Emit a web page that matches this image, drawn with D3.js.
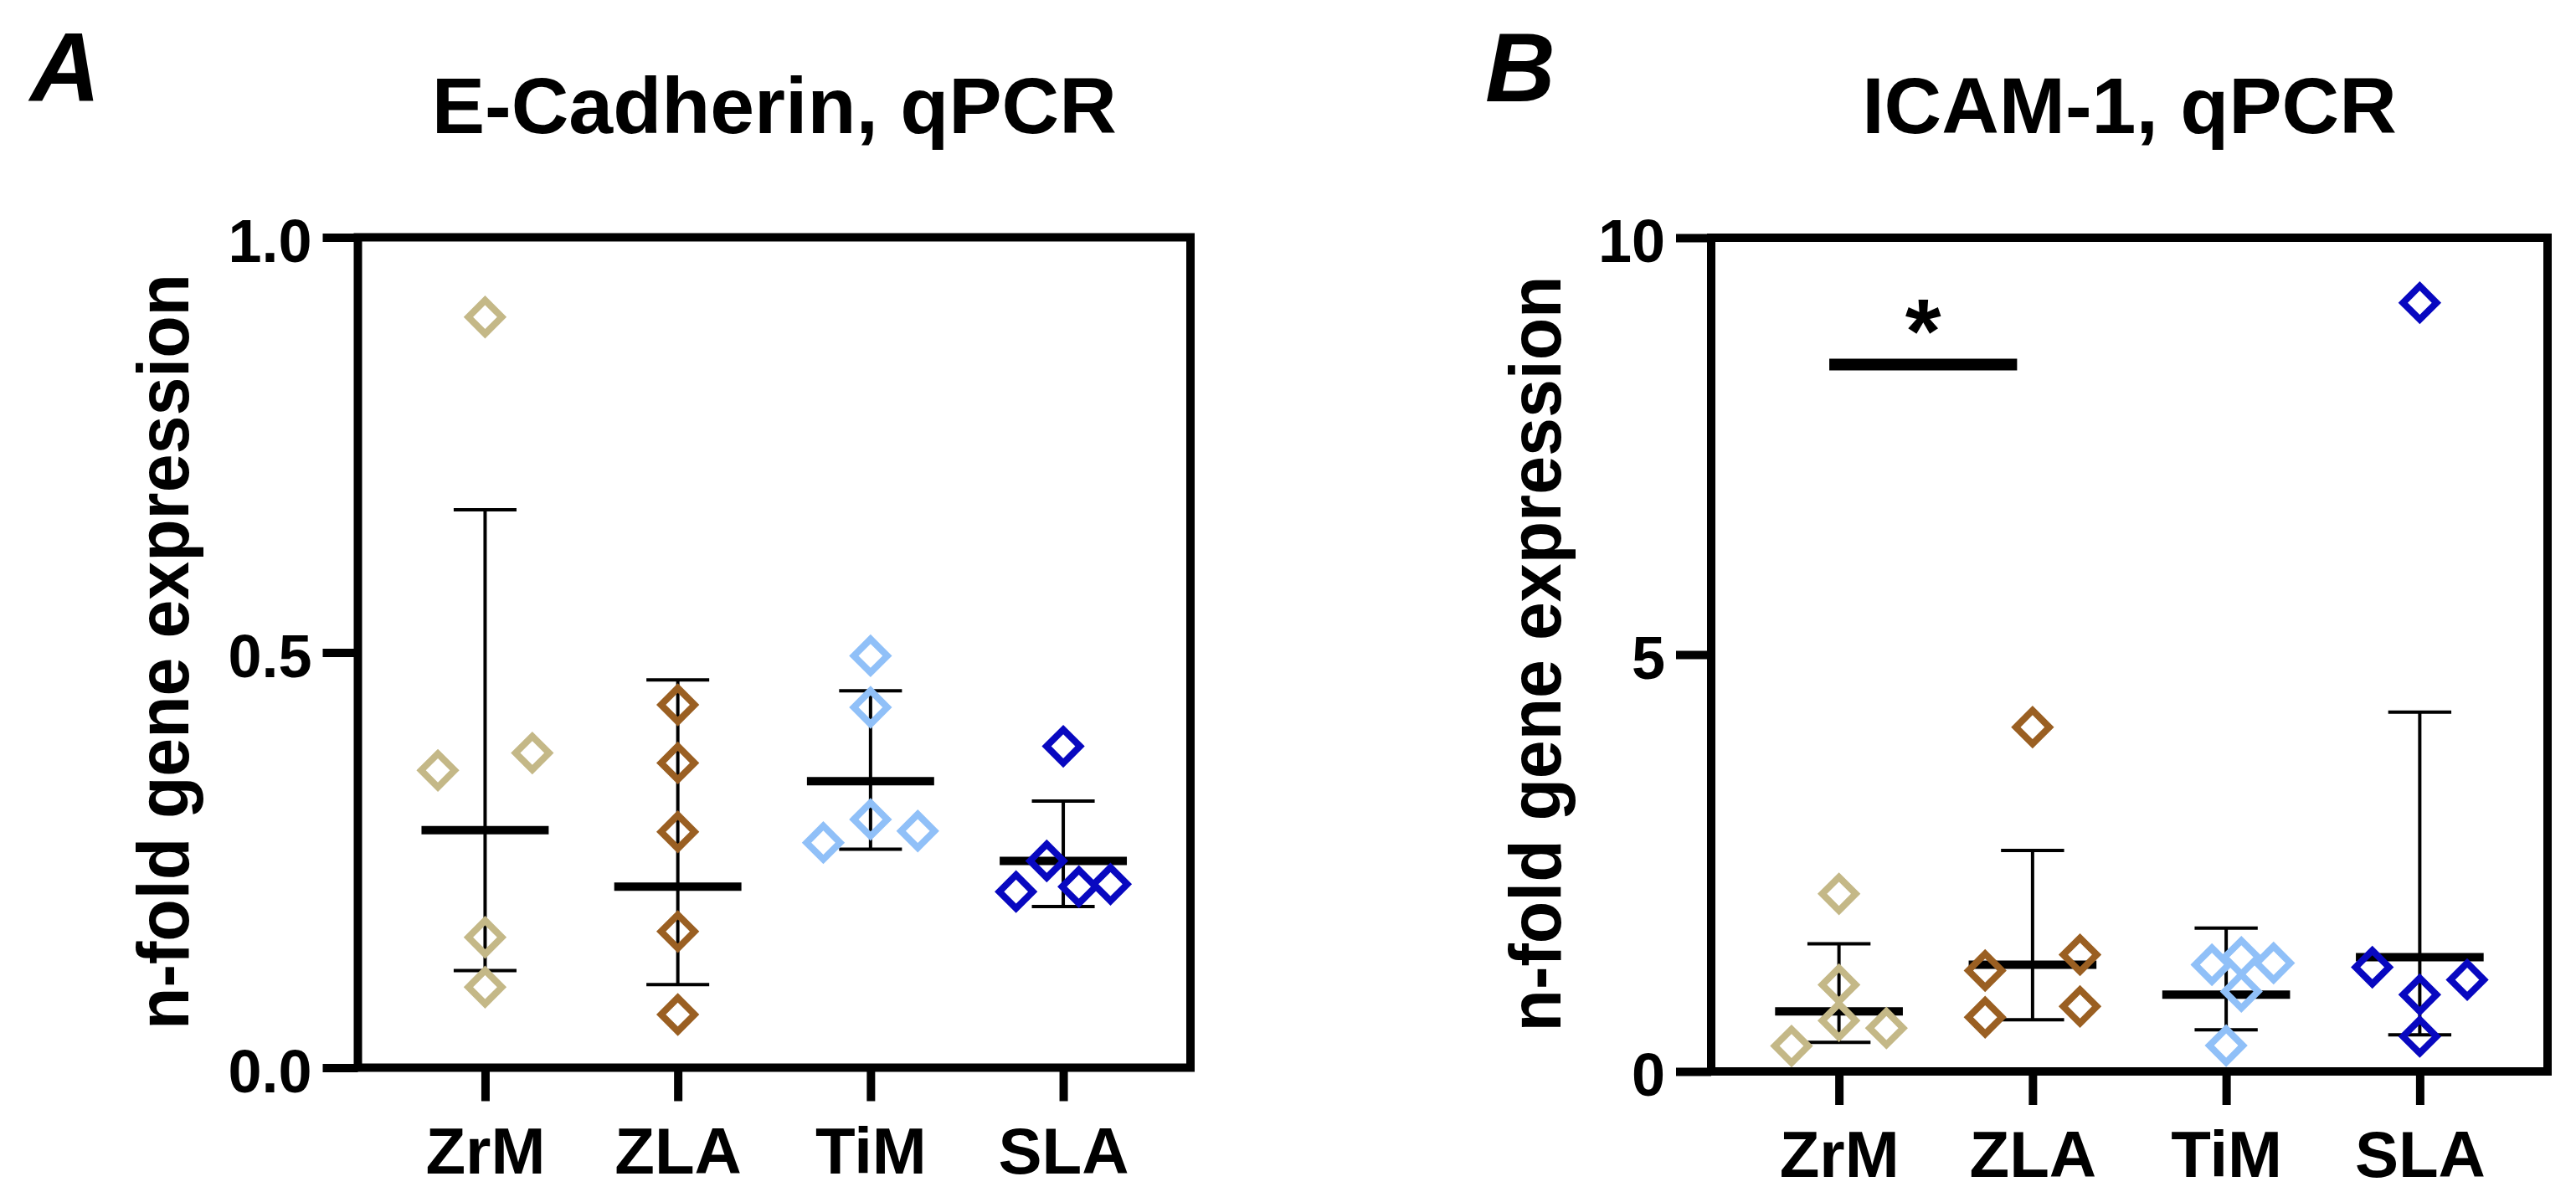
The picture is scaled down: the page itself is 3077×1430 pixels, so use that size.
<!DOCTYPE html>
<html>
<head>
<meta charset="utf-8">
<script src="https://cdn.jsdelivr.net/npm/d3@7"></script>
<style>
  body { margin: 0; background: #fff; }
  svg text { font-family: "Liberation Sans", Arial, Helvetica, sans-serif; font-weight: bold; }
</style>
</head>
<body>
<script>
// groups on the x axis
var categories = ["ZrM", "ZLA", "TiM", "SLA"];
var groupColors = ["#c4b887", "#9a5f22", "#90c0f8", "#0808c0"];

// panel A: E-Cadherin, qPCR (single values per group)
var ecadValues = [
  [0.904, 0.358, 0.379, 0.157, 0.097],
  [0.437, 0.367, 0.284, 0.164, 0.064],
  [0.496, 0.434, 0.299, 0.271, 0.285],
  [0.387, 0.249, 0.212, 0.218, 0.221]
];
// scatter slot of each point (-1 left, 0 centre, 1 right)
var ecadJitter = [
  [0, -1, 1, 0, 0],
  [0, 0, 0, 0, 0],
  [0, 0, 0, -1, 1],
  [0, -0.35, -1, 0.33, 1]
];
var ecadMean = [0.286, 0.218, 0.345, 0.249];
var ecadLow = [0.117, 0.100, 0.263, 0.194];
var ecadHigh = [0.672, 0.467, 0.454, 0.321];
var ecadTicks = [0, 0.5, 1.0];

// panel B: ICAM-1, qPCR
var icamValues = [
  [2.13, 1.04, 0.61, 0.305, 0.52],
  [4.13, 1.21, 1.40, 0.65, 0.78],
  [1.28, 1.37, 1.30, 0.96, 0.31],
  [9.22, 1.25, 1.10, 0.92, 0.42]
];
var icamJitter = [
  [0, 0, 0, -1, 1],
  [0, -1, 1, -1, 1],
  [-0.3, 0.32, 1, 0.32, 0],
  [0, -1, 1, 0, 0]
];
var icamMean = [0.72, 1.28, 0.92, 1.37];
var icamLow = [0.35, 0.62, 0.50, 0.44];
var icamHigh = [1.53, 2.65, 1.72, 4.31];
var icamTicks = [0, 5, 10];
// significance bracket
var icamSigPair = ["ZrM", "ZLA"];
var icamSigLevel = 8.48;
var icamSigLabel = "*";

function main() {
  var svg = d3.select("body").append("svg")
    .attr("width", 3077)
    .attr("height", 1430);

  drawPanel(svg, {
    letter: "A", letterX: 36,
    title: "E-Cadherin, qPCR",
    left: 427.5, right: 1422, top: 283.5, bottom: 1275.5,
    domain: [0, 1], ticks: ecadTicks, fmt: d3.format(".1f"),
    labelX: 225,
    values: ecadValues, jitter: ecadJitter,
    mean: ecadMean, low: ecadLow, high: ecadHigh
  });

  var b = drawPanel(svg, {
    letter: "B", letterX: 1774,
    title: "ICAM-1, qPCR",
    left: 2044, right: 3043, top: 284, bottom: 1280,
    domain: [0, 10], ticks: icamTicks, fmt: d3.format("d"),
    labelX: 1864,
    values: icamValues, jitter: icamJitter,
    mean: icamMean, low: icamLow, high: icamHigh
  });

  // significance bar between ZrM and ZLA
  var sx0 = b.x(icamSigPair[0]) - 0.05 * b.x.step();
  var sx1 = b.x(icamSigPair[1]) - 0.08 * b.x.step();
  var sy = b.y(icamSigLevel);
  b.g.append("line")
    .attr("x1", sx0).attr("x2", sx1)
    .attr("y1", sy).attr("y2", sy)
    .attr("stroke", "#000").attr("stroke-width", 14);
  b.g.append("text")
    .attr("x", (sx0 + sx1) / 2)
    .attr("y", sy - 2)
    .attr("text-anchor", "middle")
    .attr("font-size", 110)
    .text(icamSigLabel);
}

function drawPanel(svg, p) {
  var x = d3.scalePoint().domain(categories).range([p.left, p.right]).padding(0.66);
  var y = d3.scaleLinear().domain(p.domain).range([p.bottom, p.top]);
  var step = x.step();
  var slot = step * 0.245;
  var g = svg.append("g");

  // panel letter and title
  g.append("text")
    .attr("x", p.letterX).attr("y", 121)
    .attr("font-size", 116)
    .attr("font-style", "italic")
    .text(p.letter);
  g.append("text")
    .attr("x", (p.left + p.right) / 2).attr("y", 159)
    .attr("text-anchor", "middle")
    .attr("font-size", 95)
    .text(p.title);

  // y axis title
  g.append("text")
    .attr("transform", "translate(" + p.labelX + "," + ((p.top + p.bottom) / 2 - 1) + ") rotate(-90)")
    .attr("text-anchor", "middle")
    .attr("font-size", 88)
    .attr("textLength", 903)
    .attr("lengthAdjust", "spacingAndGlyphs")
    .text("n-fold gene expression");

  // frame
  g.append("rect")
    .attr("x", p.left).attr("y", p.top)
    .attr("width", p.right - p.left)
    .attr("height", p.bottom - p.top)
    .attr("fill", "none")
    .attr("stroke", "#000")
    .attr("stroke-width", 10);

  // axes
  var ya = g.append("g")
    .attr("transform", "translate(" + p.left + ",0)")
    .call(d3.axisLeft(y).tickValues(p.ticks).tickFormat(p.fmt).tickSize(42).tickPadding(13));
  ya.select(".domain").remove();
  ya.selectAll(".tick line").attr("stroke", "#000").attr("stroke-width", 10);
  ya.selectAll(".tick text").attr("font-size", 72).attr("fill", "#000").attr("dy", "0.40em");

  var xa = g.append("g")
    .attr("transform", "translate(0," + p.bottom + ")")
    .call(d3.axisBottom(x).tickSize(40).tickPadding(31));
  xa.select(".domain").remove();
  xa.selectAll(".tick line").attr("stroke", "#000").attr("stroke-width", 10);
  xa.selectAll(".tick text").attr("font-size", 78).attr("fill", "#000");

  // error bars and mean lines
  var capHalf = step * 0.163;
  var meanHalf = step * 0.33;
  var bars = g.selectAll(".err")
    .data(categories)
    .enter()
    .append("g")
    .attr("class", "err")
    .attr("transform", function (d) { return "translate(" + x(d) + ",0)"; });

  bars.append("line")
    .attr("y1", function (d, i) { return y(p.low[i]); })
    .attr("y2", function (d, i) { return y(p.high[i]); })
    .attr("stroke", "#000").attr("stroke-width", 4);
  bars.append("line")
    .attr("x1", -capHalf).attr("x2", capHalf)
    .attr("y1", function (d, i) { return y(p.high[i]); })
    .attr("y2", function (d, i) { return y(p.high[i]); })
    .attr("stroke", "#000").attr("stroke-width", 4);
  bars.append("line")
    .attr("x1", -capHalf).attr("x2", capHalf)
    .attr("y1", function (d, i) { return y(p.low[i]); })
    .attr("y2", function (d, i) { return y(p.low[i]); })
    .attr("stroke", "#000").attr("stroke-width", 4);
  bars.append("line")
    .attr("x1", -meanHalf).attr("x2", meanHalf)
    .attr("y1", function (d, i) { return y(p.mean[i]); })
    .attr("y2", function (d, i) { return y(p.mean[i]); })
    .attr("stroke", "#000").attr("stroke-width", 10);

  // hollow diamonds for the single values
  var pts = [];
  categories.forEach(function (c, i) {
    p.values[i].forEach(function (v, j) {
      pts.push({ cat: c, gi: i, v: v, off: p.jitter[i][j] });
    });
  });
  var diamond = d3.symbol().type(d3.symbolSquare).size(800);
  g.selectAll(".pt")
    .data(pts)
    .enter()
    .append("path")
    .attr("class", "pt")
    .attr("d", diamond)
    .attr("transform", function (d) {
      return "translate(" + (x(d.cat) + d.off * slot) + "," + y(d.v) + ") rotate(45)";
    })
    .attr("fill", "none")
    .attr("stroke", function (d) { return groupColors[d.gi]; })
    .attr("stroke-width", 8);

  return { g: g, x: x, y: y };
}

document.addEventListener("DOMContentLoaded", main);
</script>
</body>
</html>
